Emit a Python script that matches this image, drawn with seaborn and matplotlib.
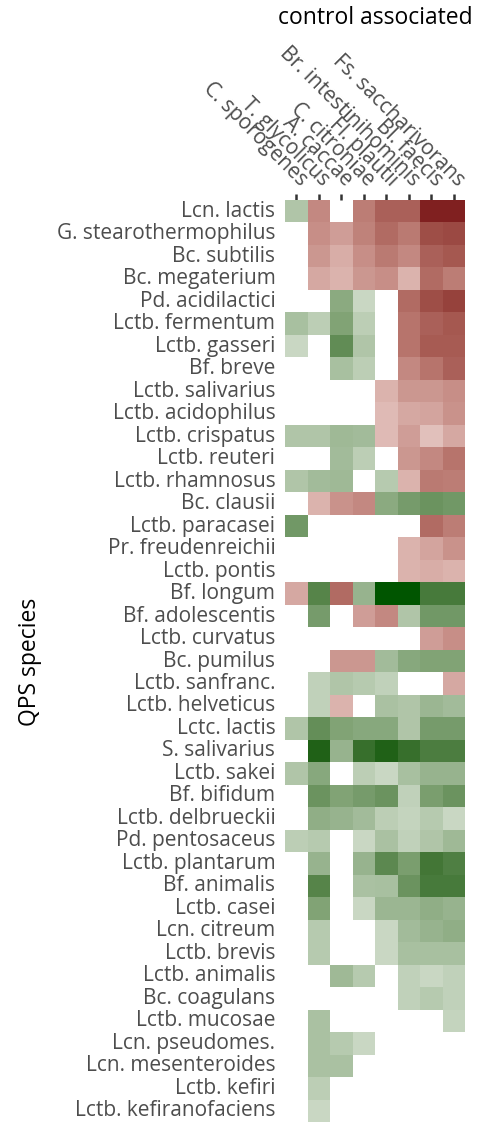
import matplotlib
matplotlib.use("Agg")
import matplotlib.pyplot as plt
import numpy as np
import pandas as pd
import seaborn as sns
from matplotlib.colors import ListedColormap

controls = [
    "C. sporogenes", "T. glycolicus", "A. caccae", "C. citroniae",
    "Fl. plautii", "Br. intestinihominis", "Bl. faecis", "Fs. saccharivorans",
]

species = [
    "Lcn. lactis", "G. stearothermophilus", "Bc. subtilis", "Bc. megaterium",
    "Pd. acidilactici", "Lctb. fermentum", "Lctb. gasseri", "Bf. breve",
    "Lctb. salivarius", "Lctb. acidophilus", "Lctb. crispatus", "Lctb. reuteri",
    "Lctb. rhamnosus", "Bc. clausii", "Lctb. paracasei", "Pr. freudenreichii",
    "Lctb. pontis", "Bf. longum", "Bf. adolescentis", "Lctb. curvatus",
    "Bc. pumilus", "Lctb. sanfranc.", "Lctb. helveticus", "Lctc. lactis",
    "S. salivarius", "Lctb. sakei", "Bf. bifidum", "Lctb. delbrueckii",
    "Pd. pentosaceus", "Lctb. plantarum", "Bf. animalis", "Lctb. casei",
    "Lcn. citreum", "Lctb. brevis", "Lctb. animalis", "Bc. coagulans",
    "Lctb. mucosae", "Lcn. pseudomes.", "Lcn. mesenteroides", "Lctb. kefiri",
    "Lctb. kefiranofaciens",
]

# score per species (row) and control (column): >0 red, <0 green, None = blank
N = None
scores = [
    [-0.25, 0.45, N, 0.50, 0.65, 0.65, 1.00, 1.00],
    [N, 0.42, 0.35, 0.48, 0.60, 0.52, 0.75, 0.78],
    [N, 0.38, 0.28, 0.42, 0.52, 0.45, 0.65, 0.70],
    [N, 0.30, 0.25, 0.38, 0.42, 0.25, 0.60, 0.50],
    [N, N, -0.40, -0.15, N, 0.60, 0.75, 0.82],
    [-0.28, -0.20, -0.45, -0.20, N, 0.55, 0.65, 0.70],
    [-0.15, N, -0.60, -0.25, N, 0.55, 0.68, 0.68],
    [N, N, -0.28, -0.20, N, 0.45, 0.55, 0.65],
    [N, N, N, N, 0.25, 0.38, 0.38, 0.42],
    [N, N, N, N, 0.22, 0.30, 0.32, 0.40],
    [-0.25, -0.25, -0.32, -0.30, 0.22, 0.35, 0.20, 0.30],
    [N, N, -0.30, -0.20, N, 0.38, 0.45, 0.55],
    [-0.25, -0.30, -0.32, N, -0.22, 0.25, 0.52, 0.50],
    [N, 0.25, 0.40, 0.45, -0.40, -0.50, -0.55, -0.52],
    [-0.52, N, N, N, N, N, 0.60, 0.50],
    [N, N, N, N, N, 0.25, 0.32, 0.40],
    [N, N, N, N, N, 0.25, 0.28, 0.25],
    [0.30, -0.65, 0.60, -0.35, -1.00, -1.00, -0.72, -0.72],
    [N, -0.50, N, 0.35, 0.45, -0.25, -0.52, -0.52],
    [N, N, N, N, N, N, 0.35, 0.42],
    [N, N, 0.38, 0.38, -0.30, -0.42, -0.45, -0.45],
    [N, -0.18, -0.25, -0.22, -0.18, N, N, 0.30],
    [N, -0.18, 0.25, N, -0.27, -0.25, -0.33, -0.30],
    [-0.25, -0.58, -0.45, -0.42, -0.42, -0.25, -0.50, -0.50],
    [N, -0.90, -0.35, -0.80, -0.90, -0.80, -0.70, -0.70],
    [-0.25, -0.42, N, -0.20, -0.15, -0.28, -0.35, -0.35],
    [N, -0.55, -0.45, -0.50, -0.55, -0.18, -0.48, -0.55],
    [N, -0.38, -0.35, -0.30, -0.20, -0.17, -0.22, -0.15],
    [-0.20, -0.22, N, -0.15, -0.27, -0.18, -0.25, -0.32],
    [N, -0.35, N, -0.35, -0.62, -0.48, -0.75, -0.68],
    [N, -0.65, N, -0.27, -0.28, -0.55, -0.72, -0.72],
    [N, -0.45, N, -0.15, -0.33, -0.33, -0.38, -0.35],
    [N, -0.22, N, N, -0.15, -0.30, -0.35, -0.38],
    [N, -0.22, N, N, -0.15, -0.28, -0.28, -0.28],
    [N, N, -0.32, -0.22, N, -0.18, -0.15, -0.18],
    [N, N, N, N, N, -0.18, -0.22, -0.18],
    [N, -0.27, N, N, N, N, N, -0.17],
    [N, -0.27, -0.22, -0.15, N, N, N, N],
    [N, -0.27, -0.27, N, N, N, N, N],
    [N, -0.20, N, N, N, N, N, N],
    [N, -0.15, N, N, N, N, N, N],
]


def rgb_to_lab(rgb):
    c = np.asarray(rgb, float)
    c = np.where(c > 0.04045, ((c + 0.055) / 1.055) ** 2.4, c / 12.92)
    m = np.array([[0.4124, 0.3576, 0.1805],
                  [0.2126, 0.7152, 0.0722],
                  [0.0193, 0.1192, 0.9505]])
    xyz = m @ c / np.array([0.95047, 1.0, 1.08883])
    f = np.where(xyz > 0.008856, np.cbrt(xyz), 7.787 * xyz + 16 / 116)
    return np.array([116 * f[1] - 16, 500 * (f[0] - f[1]), 200 * (f[1] - f[2])])


def lab_to_rgb(lab):
    L, a, b = lab
    fy = (L + 16) / 116
    f = np.array([fy + a / 500, fy, fy - b / 200])
    xyz = np.where(f ** 3 > 0.008856, f ** 3, (f - 16 / 116) / 7.787)
    xyz = xyz * np.array([0.95047, 1.0, 1.08883])
    m = np.array([[3.2406, -1.5372, -0.4986],
                  [-0.9689, 1.8758, 0.0415],
                  [0.0557, -0.2040, 1.0570]])
    c = m @ xyz
    c = np.where(c > 0.0031308, 1.055 * np.clip(c, 0, None) ** (1 / 2.4) - 0.055, 12.92 * c)
    return np.clip(c, 0, 1)


# diverging gradient interpolated in Lab space (like ggplot's gradient2)
low, mid, high = [rgb_to_lab(np.array(h) / 255) for h in
                  [(0, 85, 0), (255, 255, 255), (128, 32, 32)]]
colors = []
for t in np.linspace(-1, 1, 256):
    end = low if t < 0 else high
    colors.append(lab_to_rgb(mid + abs(t) ** 0.8 * (end - mid)))
cmap = ListedColormap(colors)

df = pd.DataFrame(scores, index=species, columns=controls).astype(float)

sns.set_style("white")
plt.rcParams["font.family"] = ["Open Sans", "DejaVu Sans"]

fig = plt.figure(figsize=(4.78, 11.26), dpi=100)
ax = fig.add_axes([285 / 478, 4 / 1126, 180 / 478, 922 / 1126])

sns.heatmap(df, cmap=cmap, vmin=-1, vmax=1, cbar=False, ax=ax)

ax.xaxis.tick_top()
ax.set_xlabel("")
ax.set_ylabel("")
ax.tick_params(axis="both", length=4, width=1.8, color="#333333",
               labelcolor="#4d4d4d", pad=3)
ax.tick_params(axis="y", labelsize=15)
ax.set_xticklabels(controls, rotation=-45, ha="right", va="bottom",
                   rotation_mode="anchor", fontsize=15)
ax.set_yticklabels(species, rotation=0)
for s in ax.spines.values():
    s.set_visible(False)

fig.text(375 / 478, 1 - 18 / 1126, "control associated", ha="center",
         va="center", fontsize=16.5, color="black")
fig.text(30 / 478, 1 - 662 / 1126, "QPS species", ha="center",
         va="center", rotation=90, fontsize=16.5, color="black")

fig.savefig("out.png", dpi=100)
